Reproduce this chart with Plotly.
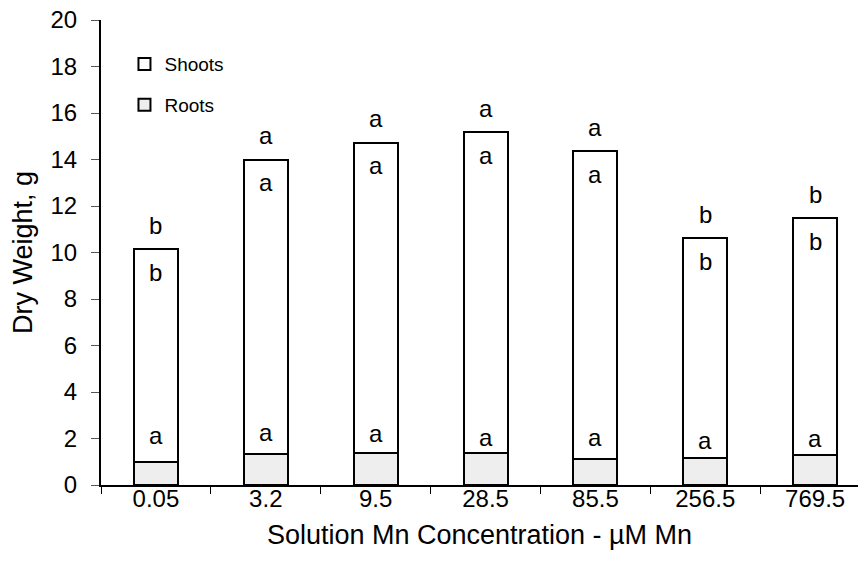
import plotly.graph_objects as go

# Mn treatment levels (µM) and mean dry weights (g)
concentrations = ["0.05", "3.2", "9.5", "28.5", "85.5", "256.5", "769.5"]
roots = [1.0, 1.35, 1.38, 1.38, 1.13, 1.18, 1.28]
totals = [10.15, 14.0, 14.72, 15.17, 14.35, 10.61, 11.47]
shoots = [t - r for t, r in zip(totals, roots)]

# mean separation letters
total_letters = ["b", "a", "a", "a", "a", "b", "b"]
shoot_letters = ["b", "a", "a", "a", "a", "b", "b"]
root_letters = ["a", "a", "a", "a", "a", "a", "a"]
root_letter_y = [2.15, 2.25, 2.2, 2.05, 2.05, 1.9, 2.0]

FONT = "Liberation Sans, Arial, sans-serif"
outline = dict(color="black", width=2)
letter_font = dict(size=24, color="#000000", family=FONT)

fig = go.Figure()
fig.add_trace(go.Bar(x=concentrations, y=roots, name="Roots", width=0.4,
                     marker=dict(color="#eeeeee", line=outline),
                     legendgroup="r", legendrank=2))
fig.add_trace(go.Bar(x=concentrations, y=shoots, name="Shoots", width=0.4,
                     marker=dict(color="white", line=outline),
                     legendgroup="s", legendrank=1))

ann = []
for i, (t, lt, ls) in enumerate(zip(totals, total_letters, shoot_letters)):
    ann.append(dict(x=i, y=t, xref="x", yref="y", text=lt, showarrow=False,
                    yshift=24, font=letter_font))
    ann.append(dict(x=i, y=t, xref="x", yref="y", text=ls, showarrow=False,
                    yshift=-23, font=letter_font))
for i, (y, l) in enumerate(zip(root_letter_y, root_letters)):
    ann.append(dict(x=i, y=y, xref="x", yref="y", text=l, showarrow=False,
                    font=letter_font))

fig.update_layout(
    width=858, height=576,
    margin=dict(l=101, r=0, t=20, b=91),
    barmode="stack",
    paper_bgcolor="white", plot_bgcolor="white",
    font=dict(family=FONT, size=24, color="black"),
    showlegend=True,
    legend=dict(x=0.031, y=0.946, xanchor="left", yanchor="top",
                traceorder="grouped", tracegroupgap=13,
                font=dict(size=19, family=FONT, color="black"),
                bgcolor="rgba(0,0,0,0)"),
    annotations=ann,
    xaxis=dict(range=[-0.5, 6.39], showline=True, linecolor="black", linewidth=2,
               ticks="outside", tickson="boundaries", ticklen=7, tickcolor="black",
               tickfont=dict(size=24), ticklabelstandoff=-9, showgrid=False,
               automargin=False,
               title=dict(text="Solution Mn Concentration - µM Mn",
                          font=dict(size=27), standoff=14)),
    yaxis=dict(range=[0, 20], dtick=2, showline=True, linecolor="black", linewidth=2,
               ticks="outside", ticklen=8, tickcolor="#555555", showgrid=False,
               zeroline=False, tickfont=dict(size=24), ticklabelstandoff=9,
               automargin=False,
               title=dict(text="Dry Weight, g", font=dict(size=27), standoff=10)),
)

fig.write_html("out.html")
